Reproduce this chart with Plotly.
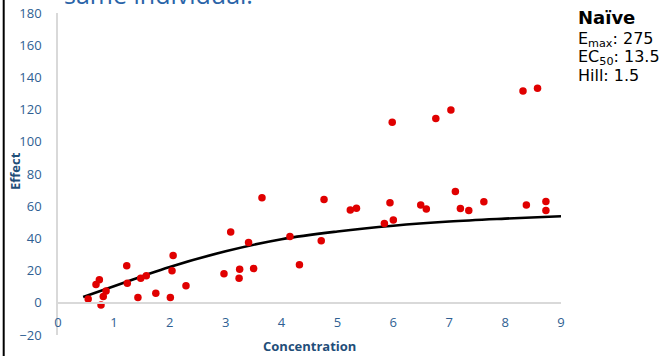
import plotly.graph_objects as go

# Observed concentration / effect pairs
conc = [0.54, 0.68, 0.74, 0.77, 0.81, 0.86, 1.23, 1.24, 1.43, 1.48, 1.58, 1.75,
        2.01, 2.06, 2.04, 2.29, 2.97, 3.09, 3.25, 3.24, 3.41, 3.50, 3.65, 4.15,
        4.32, 4.71, 4.76, 5.23, 5.34, 5.84, 5.94, 6.00, 6.49, 6.59, 7.11, 7.20,
        7.35, 7.62, 8.38, 8.73, 8.73, 5.98, 6.76, 7.03, 8.32, 8.58]
effect = [2.3, 11.4, 14.3, -1.4, 3.9, 7.4, 23.0, 12.2, 3.3, 15.3, 16.8, 6.0,
          3.3, 29.4, 19.9, 10.6, 18.0, 44.0, 20.9, 15.3, 37.4, 21.3, 65.2, 41.2,
          23.6, 38.5, 64.1, 57.7, 58.8, 49.2, 62.1, 51.5, 60.8, 58.3, 69.1, 58.5,
          57.3, 62.7, 60.8, 62.9, 57.3, 112.2, 114.4, 119.8, 131.6, 133.3]

# Fitted response curve
curve_conc = [0.45, 1.0, 1.5, 2.0, 3.0, 4.0, 5.0, 6.0, 7.0, 8.0, 9.0]
curve_effect = [3.6, 10.3, 16.4, 22.3, 32.0, 39.5, 44.3, 47.9, 50.5, 52.3, 53.8]

x_ticks = [0, 1, 2, 3, 4, 5, 6, 7, 8, 9]
y_ticks = [-20, 0, 20, 40, 60, 80, 100, 120, 140, 160, 180]

W, H = 660, 356
ML, MR, MT, MB = 58, 99, 13, 21
PW, PH = W - ML - MR, H - MT - MB


def px_x(px):
    return (px - ML) / PW


def px_y(py):
    return (H - MB - py) / PH


TICK_BLUE = "#2F5F93"
TITLE_BLUE = "#1F4E79"

fig = go.Figure()
fig.add_trace(go.Scatter(
    x=curve_conc, y=curve_effect, mode="lines",
    line=dict(color="black", width=2.6, shape="spline"),
    hoverinfo="skip", showlegend=False,
))
fig.add_trace(go.Scatter(
    x=conc, y=effect, mode="markers",
    marker=dict(color="#E00000", size=7.5),
    showlegend=False,
))

zero_frac = (0 - y_ticks[0]) / (y_ticks[-1] - y_ticks[0])

fig.update_layout(
    width=W, height=H,
    margin=dict(l=ML, r=MR, t=MT, b=MB, autoexpand=False),
    plot_bgcolor="white", paper_bgcolor="white",
    font=dict(family="Open Sans", color=TICK_BLUE, size=13),
    xaxis=dict(
        range=[0, 9], tickvals=x_ticks, showgrid=False, zeroline=False,
        showline=True, linecolor="#D9D9D9", linewidth=1.5,
        anchor="free", position=zero_frac, ticks="", automargin=False,
        ticklabelstandoff=8, tickfont=dict(size=13, color=TICK_BLUE),
    ),
    yaxis=dict(
        range=[-20, 180], tickvals=y_ticks, showgrid=False, zeroline=False,
        showline=True, linecolor="#D9D9D9", linewidth=1.5, ticks="",
        automargin=False,
        ticklabelstandoff=12, tickfont=dict(size=13, color=TICK_BLUE),
    ),
    shapes=[dict(type="line", xref="paper", yref="paper",
                 x0=px_x(3.7), x1=px_x(3.7), y0=px_y(0), y1=px_y(H),
                 line=dict(color="black", width=2))],
)

ann = [
    dict(text="same individual.", x=px_x(62), y=px_y(13.5), xanchor="left",
         yanchor="bottom", font=dict(size=25, color="#2A64A8")),
    dict(text="<b>Concentration</b>", x=px_x(309), y=px_y(346),
         xanchor="center", yanchor="middle",
         font=dict(size=13, color=TITLE_BLUE)),
    dict(text="<b>Effect</b>", x=px_x(15), y=px_y(171), textangle=-90,
         xanchor="center", yanchor="middle",
         font=dict(size=13, color=TITLE_BLUE)),
    dict(text="<b>Naïve</b>", x=px_x(576), y=px_y(18), xanchor="left",
         yanchor="middle", font=dict(family="DejaVu Sans", size=18, color="black")),
    dict(text="E<sub>max</sub>: 275", x=px_x(576), y=px_y(39), xanchor="left",
         yanchor="middle", font=dict(family="DejaVu Sans", size=16, color="black")),
    dict(text="EC<sub>50</sub>: 13.5", x=px_x(576), y=px_y(57), xanchor="left",
         yanchor="middle", font=dict(family="DejaVu Sans", size=16, color="black")),
    dict(text="Hill: 1.5", x=px_x(576), y=px_y(75.5), xanchor="left",
         yanchor="middle", font=dict(family="DejaVu Sans", size=16, color="black")),
]
for a in ann:
    a.update(xref="paper", yref="paper", showarrow=False)
fig.update_layout(annotations=ann)

fig.write_html("out.html")
